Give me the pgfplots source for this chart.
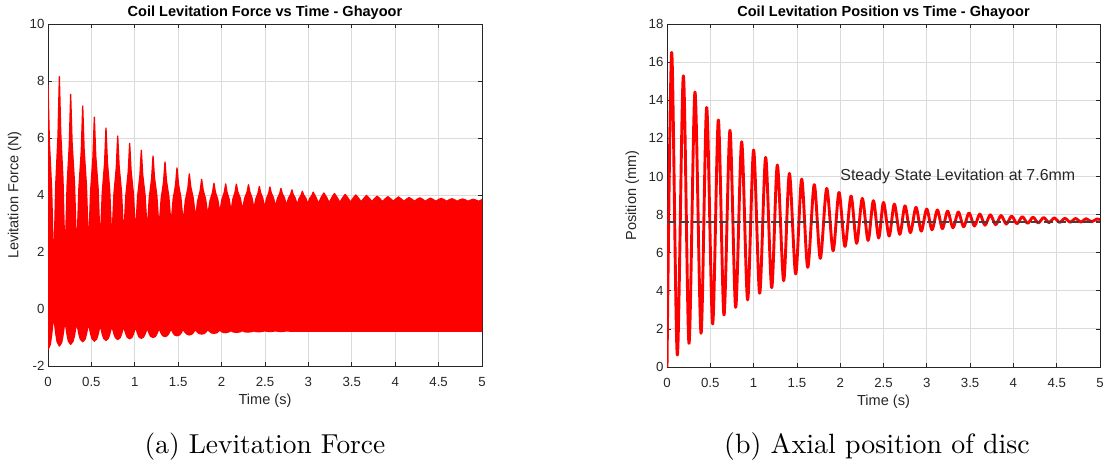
\documentclass[border=0pt]{standalone}
\usepackage{fontspec}
\newfontfamily\arial{Liberation Sans}
\newfontfamily\capfont{lmroman10-regular.otf}
\usepackage{pgfplots}
\pgfplotsset{compat=1.18}

\definecolor{gridgray}{gray}{0.86}
\definecolor{boxgray}{gray}{0.15}

\pgfplotsset{
  mlab/.style={
    scale only axis,
    xmin=0, xmax=5,
    xtick={0,0.5,1,1.5,2,2.5,3,3.5,4,4.5,5},
    grid=major,
    major grid style={draw=gridgray, line width=0.8bp},
    axis line style={draw=boxgray, line width=0.9bp},
    tick style={draw=boxgray, line width=0.7bp},
    tick align=inside,
    major tick length=4bp,
    /pgf/number format/assume math mode=true,
    /pgf/number format/fixed,
    ticklabel style={font=\arial\fontsize{13.3}{15}\selectfont, text=boxgray},
    xticklabel style={anchor=base, yshift=-20.5bp},
    title style={font=\arial\bfseries\fontsize{14.6}{17}\selectfont,
      at={(axis description cs:0.5,1)}, anchor=base, yshift=1.1bp},
    label style={font=\arial\fontsize{14.6}{17}\selectfont, text=boxgray},
  }
}

\begin{document}
\begin{tikzpicture}
\path[use as bounding box] (0,0) rectangle (1104bp,466bp);

% ---------------- (a) levitation force ----------------
\begin{axis}[mlab,
  at={(48bp,100bp)}, anchor=south west,
  width=434bp, height=342bp,
  ymin=-2, ymax=10, ytick={-2,0,2,4,6,8,10},
  title={Coil Levitation Force vs Time - Ghayoor},
  xlabel={Time (s)}, ylabel={Levitation Force (N)},
  xlabel style={at={(axis description cs:0.5,-0.114)}, anchor=base},
  ylabel style={at={(axis description cs:-0.068,0.5)}, anchor=base},
]
% band covered by the fast force oscillation: upper envelope left to right,
% then lower envelope right to left
\addplot[fill=red, draw=red, line width=1.3bp, line join=round] coordinates {
(0,7.86) (0.0157,5.88) (0.0419,4.22) (0.055,2.57) (0.0655,1.25) (0.076,2.63) (0.0891,4.36) (0.1153,6.08)
(0.131,8.15) (0.1466,6.19) (0.1726,4.56) (0.1856,2.93) (0.196,1.63) (0.2064,2.81) (0.2194,4.29) (0.2454,5.76)
(0.261,7.53) (0.2777,5.83) (0.3055,4.41) (0.3194,2.99) (0.3305,1.85) (0.3416,2.90) (0.3555,4.22) (0.3833,5.54)
(0.40,7.12) (0.4161,5.60) (0.4429,4.33) (0.4563,3.06) (0.467,2.04) (0.4777,2.98) (0.4911,4.15) (0.5179,5.32)
(0.534,6.73) (0.5501,5.38) (0.5769,4.25) (0.5903,3.12) (0.601,2.22) (0.6117,3.05) (0.6251,4.08) (0.6519,5.11)
(0.668,6.35) (0.6842,5.16) (0.7112,4.16) (0.7247,3.17) (0.7355,2.37) (0.7463,3.11) (0.7598,4.04) (0.7868,4.96)
(0.803,6.07) (0.8196,5.00) (0.8472,4.10) (0.861,3.21) (0.872,2.49) (0.883,3.15) (0.8968,3.98) (0.9244,4.81)
(0.941,5.81) (0.9571,4.85) (0.9839,4.05) (0.9973,3.24) (1.008,2.60) (1.0187,3.19) (1.0321,3.94) (1.0589,4.68)
(1.075,5.57) (1.0912,4.71) (1.1182,4.00) (1.1317,3.28) (1.1425,2.71) (1.1533,3.24) (1.1668,3.91) (1.1938,4.57)
(1.21,5.37) (1.2266,4.61) (1.2542,3.97) (1.268,3.33) (1.279,2.82) (1.29,3.29) (1.3038,3.87) (1.3314,4.46)
(1.348,5.16) (1.3646,4.50) (1.3922,3.95) (1.406,3.39) (1.417,2.95) (1.428,3.35) (1.4418,3.85) (1.4694,4.35)
(1.486,4.95) (1.503,4.38) (1.5314,3.90) (1.5456,3.42) (1.557,3.04) (1.5684,3.38) (1.5826,3.81) (1.611,4.23)
(1.628,4.74) (1.645,4.28) (1.6734,3.89) (1.6876,3.50) (1.699,3.19) (1.7104,3.46) (1.7246,3.80) (1.753,4.14)
(1.77,4.55) (1.787,4.18) (1.8154,3.86) (1.8296,3.55) (1.841,3.30) (1.8524,3.52) (1.8666,3.80) (1.895,4.08)
(1.912,4.41) (1.9282,4.10) (1.9552,3.85) (1.9687,3.59) (1.9795,3.39) (1.9903,3.59) (2.0038,3.84) (2.0308,4.09)
(2.047,4.39) (2.0618,4.10) (2.0864,3.86) (2.0987,3.62) (2.1085,3.43) (2.1183,3.62) (2.1306,3.86) (2.1552,4.10)
(2.17,4.38) (2.1868,4.11) (2.2148,3.89) (2.2288,3.66) (2.24,3.48) (2.2512,3.66) (2.2652,3.88) (2.2932,4.10)
(2.31,4.36) (2.325,4.11) (2.35,3.90) (2.3625,3.69) (2.3725,3.52) (2.3825,3.68) (2.395,3.87) (2.42,4.07)
(2.435,4.30) (2.4496,4.08) (2.474,3.89) (2.4862,3.70) (2.496,3.55) (2.5058,3.70) (2.518,3.88) (2.5424,4.06)
(2.557,4.28) (2.5722,4.07) (2.5976,3.90) (2.6103,3.73) (2.6205,3.59) (2.6307,3.72) (2.6434,3.88) (2.6688,4.04)
(2.684,4.23) (2.6991,4.05) (2.7243,3.90) (2.7369,3.75) (2.747,3.63) (2.7571,3.74) (2.7697,3.88) (2.7949,4.02)
(2.81,4.18) (2.8244,4.02) (2.8484,3.89) (2.8604,3.76) (2.87,3.66) (2.8796,3.75) (2.8916,3.87) (2.9156,3.99)
(2.93,4.13) (2.945,4.00) (2.97,3.89) (2.9825,3.78) (2.9925,3.69) (3.0025,3.77) (3.015,3.88) (3.04,3.98)
(3.055,4.10) (3.086,3.92) (3.117,3.71) (3.147,3.91)
(3.178,4.07) (3.209,3.92) (3.24,3.73) (3.27,3.91)
(3.30,4.05) (3.331,3.91) (3.362,3.74) (3.392,3.89)
(3.423,4.02) (3.454,3.90) (3.485,3.75) (3.515,3.89)
(3.546,4.00) (3.577,3.89) (3.608,3.76) (3.638,3.88)
(3.669,3.98) (3.70,3.89) (3.731,3.77) (3.761,3.87)
(3.792,3.96) (3.823,3.87) (3.854,3.77) (3.884,3.86)
(3.915,3.94) (3.946,3.87) (3.977,3.78) (4.007,3.86)
(4.038,3.93) (4.069,3.86) (4.10,3.78) (4.13,3.85)
(4.161,3.91) (4.192,3.85) (4.223,3.78) (4.253,3.85)
(4.284,3.90) (4.315,3.85) (4.346,3.78) (4.376,3.84)
(4.407,3.89) (4.438,3.84) (4.469,3.78) (4.499,3.84)
(4.53,3.88) (4.561,3.84) (4.592,3.78) (4.622,3.83)
(4.653,3.87) (4.684,3.83) (4.715,3.78) (4.745,3.83)
(4.776,3.86) (4.807,3.83) (4.838,3.78) (4.868,3.82)
(4.899,3.85) (4.93,3.82) (4.961,3.78) (4.99,3.82) (5,3.84)
(5,-0.78) (2.81,-0.78) (2.747,-0.77) (2.684,-0.79) (2.6205,-0.77) (2.557,-0.79) (2.496,-0.77) (2.435,-0.80)
(2.395,-0.79) (2.3725,-0.77) (2.35,-0.79) (2.31,-0.81)
(2.2652,-0.80) (2.24,-0.76) (2.2148,-0.80) (2.17,-0.82)
(2.1306,-0.80) (2.1085,-0.76) (2.0864,-0.80) (2.047,-0.83)
(2.02,-0.82) (2.0038,-0.80) (1.9903,-0.77) (1.9795,-0.75) (1.9687,-0.77) (1.9552,-0.81) (1.939,-0.84) (1.912,-0.85)
(1.8836,-0.84) (1.8666,-0.80) (1.8524,-0.76) (1.841,-0.74) (1.8296,-0.77) (1.8154,-0.82) (1.7984,-0.86) (1.77,-0.88)
(1.7416,-0.86) (1.7246,-0.82) (1.7104,-0.77) (1.699,-0.74) (1.6876,-0.77) (1.6734,-0.83) (1.6564,-0.88) (1.628,-0.91)
(1.5996,-0.88) (1.5826,-0.83) (1.5684,-0.77) (1.557,-0.73) (1.5456,-0.77) (1.5314,-0.85) (1.5144,-0.91) (1.486,-0.94)
(1.4584,-0.91) (1.4418,-0.84) (1.428,-0.76) (1.417,-0.72) (1.406,-0.77) (1.3922,-0.86) (1.3756,-0.93) (1.348,-0.97)
(1.3204,-0.93) (1.3038,-0.85) (1.29,-0.76) (1.279,-0.71) (1.268,-0.77) (1.2542,-0.87) (1.2376,-0.96) (1.21,-1.00)
(1.183,-0.96) (1.1668,-0.87) (1.1533,-0.76) (1.1425,-0.70) (1.1317,-0.77) (1.1182,-0.88) (1.102,-0.98) (1.075,-1.03)
(1.0482,-0.98) (1.0321,-0.86) (1.0187,-0.73) (1.008,-0.66) (0.9973,-0.74) (0.9839,-0.88) (0.9678,-0.99) (0.941,-1.05)
(0.9134,-0.99) (0.8968,-0.87) (0.883,-0.73) (0.872,-0.65) (0.861,-0.73) (0.8472,-0.88) (0.8306,-1.01) (0.803,-1.07)
(0.776,-1.00) (0.7598,-0.87) (0.7463,-0.71) (0.7355,-0.62) (0.7247,-0.72) (0.7112,-0.88) (0.695,-1.03) (0.668,-1.10)
(0.6412,-1.03) (0.6251,-0.88) (0.6117,-0.70) (0.601,-0.60) (0.5903,-0.71) (0.5769,-0.89) (0.5608,-1.05) (0.534,-1.13)
(0.5072,-1.04) (0.4911,-0.87) (0.4777,-0.67) (0.467,-0.55) (0.4563,-0.67) (0.4429,-0.88) (0.4268,-1.06) (0.40,-1.15)
(0.3722,-1.06) (0.3555,-0.87) (0.3416,-0.65) (0.3305,-0.53) (0.3194,-0.67) (0.3055,-0.92) (0.2888,-1.13) (0.261,-1.24)
(0.235,-1.13) (0.2194,-0.90) (0.2064,-0.63) (0.196,-0.48) (0.1856,-0.64) (0.1726,-0.93) (0.157,-1.18) (0.131,-1.30)
(0.1048,-1.15) (0.0891,-0.85) (0.076,-0.51) (0.0655,-0.31) (0.055,-0.53) (0.0419,-0.92) (0.0262,-1.25) (0,-1.42)
};
\end{axis}

% ---------------- (b) axial position ----------------
\begin{axis}[mlab,
  at={(667bp,99bp)}, anchor=south west,
  width=433bp, height=343bp,
  ymin=0, ymax=18, ytick={0,2,4,6,8,10,12,14,16,18},
  title={Coil Levitation Position vs Time - Ghayoor},
  xlabel={Time (s)}, ylabel={Position (mm)},
  xlabel style={at={(axis description cs:0.5,-0.1137)}, anchor=base},
  ylabel style={at={(axis description cs:-0.0716,0.5)}, anchor=base},
]
\addplot[red, line width=2.9bp, smooth, line join=round] coordinates {
(0,0) (0.054,16.51) (0.119,0.63) (0.189,15.28) (0.254,1.24) (0.323,14.43)
(0.393,1.77) (0.458,13.62) (0.527,2.26) (0.593,12.96) (0.658,2.73) (0.727,12.42)
(0.793,3.13) (0.862,11.82) (0.931,3.52) (1.0,11.39) (1.07,3.87) (1.139,11.0)
(1.209,4.16) (1.274,10.6) (1.347,4.53) (1.413,10.16) (1.486,4.88) (1.555,9.86)
(1.625,5.23) (1.70,9.57) (1.77,5.7) (1.844,9.37) (1.918,6.1) (1.986,9.16)
(2.055,6.33) (2.125,8.97) (2.19,6.49) (2.255,8.85) (2.322,6.64) (2.383,8.73)
(2.444,6.77) (2.5,8.64) (2.565,6.87) (2.625,8.55) (2.688,6.96) (2.748,8.46)
(2.81,7.05) (2.875,8.38) (2.936,7.13) (2.999,8.29) (3.06,7.2) (3.122,8.24)
(3.18,7.26) (3.24,8.18) (3.302,7.31) (3.364,8.13) (3.425,7.36) (3.487,8.08)
(3.55,7.4) (3.612,8.03) (3.672,7.44) (3.733,7.99) (3.795,7.47) (3.857,7.95)
(3.918,7.5) (3.98,7.92) (4.041,7.52) (4.103,7.89) (4.164,7.54) (4.226,7.86)
(4.287,7.56) (4.349,7.84) (4.41,7.58) (4.472,7.82) (4.533,7.59) (4.595,7.8)
(4.656,7.6) (4.718,7.79) (4.779,7.61) (4.841,7.78) (4.902,7.62) (4.964,7.77)
(5,7.72)
};
% steady-state reference level
\addplot[black!75, line width=1.4bp, dash pattern=on 8.5bp off 4.5bp] coordinates {(0,7.6) (5,7.6)};
\node[anchor=west, inner sep=0pt, text=boxgray, font=\arial\fontsize{16}{19}\selectfont]
  at (axis cs:2,10) {Steady State Levitation at 7.6mm};
\end{axis}

% sub-figure captions
\node[anchor=base, inner sep=0pt, font=\capfont\fontsize{27.5}{32}\selectfont] at (265bp,12.5bp) {(a) Levitation Force};
\node[anchor=base, inner sep=0pt, font=\capfont\fontsize{28}{32}\selectfont] at (877bp,12.5bp) {(b) Axial position of disc};
\end{tikzpicture}
\end{document}
